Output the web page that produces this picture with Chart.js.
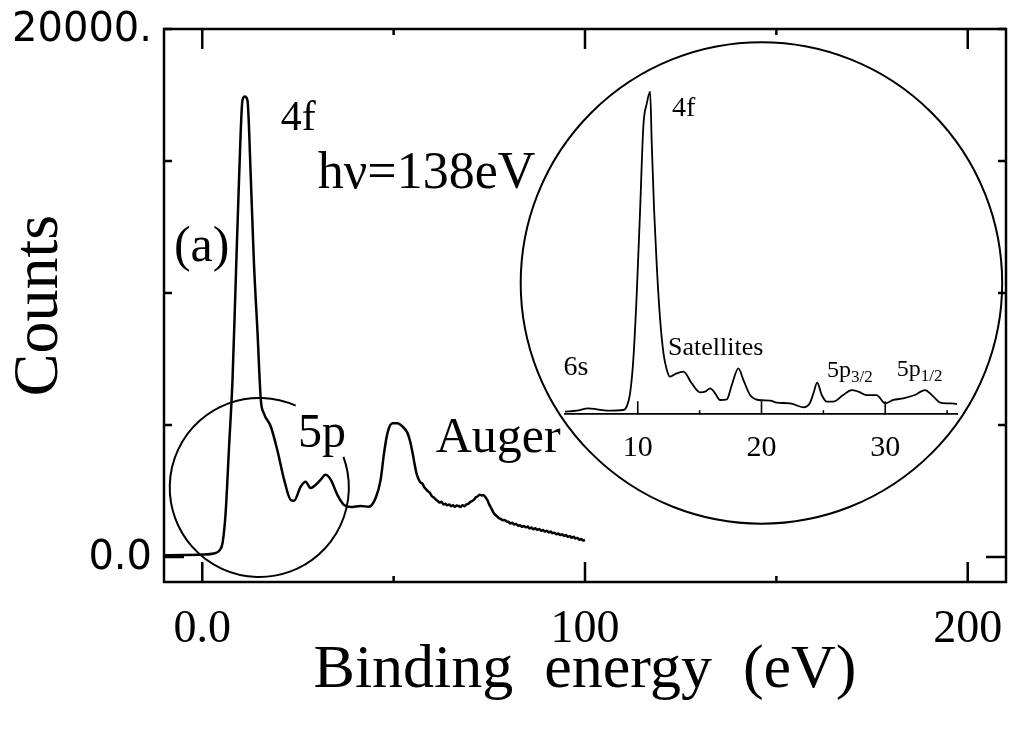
<!DOCTYPE html>
<html>
<head>
<meta charset="utf-8">
<script src="https://cdn.jsdelivr.net/npm/chart.js@4.4.1/dist/chart.umd.min.js"></script>
<style>
  html, body { margin: 0; padding: 0; background: #fff; }
  #wrap { position: relative; width: 1013px; height: 730px; }
  #main { position: absolute; left: 0; top: 0; }
  #inset { position: absolute; left: 540px; top: 60px; }
</style>
</head>
<body>
<div id="wrap">
  <canvas id="main" width="1013" height="730"></canvas>
  <canvas id="inset" width="440" height="420"></canvas>
</div>
<script>
// full spectrum, hv = 138 eV
var energy = [-10, -5, 0, 3, 4.5, 5.3, 6.1, 7.0, 7.9, 8.75, 9.6, 10.5, 11.1, 11.8, 12.7, 13.5, 14.4, 15.3, 16.1, 17.9,
  19.6, 21.4, 23.1, 24.0, 25.7, 27.0, 28.3, 29.6, 30.9, 32.2, 33.6, 35.3, 37.0, 38.8, 41.4, 43.5, 45.3, 46.6, 47.5, 48.4,
  49.7, 51.0, 52.3, 53.6, 54.3, 55.0, 55.5, 56.0, 56.5, 57.0, 57.5, 58.0, 58.5, 59.0, 59.5, 60.0, 60.5, 61.0, 61.5, 62.0,
  62.5, 63.0, 63.5, 64.0, 64.5, 65.0, 65.5, 66.0, 66.5, 67.0, 67.5, 68.0, 68.5, 69.0, 69.5, 70.0, 70.5, 71.0, 71.5, 72.0,
  72.5, 73.0, 73.5, 74.0, 74.5, 75.0, 75.5, 76.0, 76.5, 77.0, 77.5, 78.0, 78.5, 79.0, 79.5, 80.0, 80.5, 81.0, 81.5, 82.0,
  82.5, 83.0, 83.5, 84.0, 84.5, 85.0, 85.5, 86.0, 86.5, 87.0, 87.5, 88.0, 88.5, 89.0, 89.5, 90.0, 90.5, 91.0, 91.5, 92.0,
  92.5, 93.0, 93.5, 94.0, 94.5, 95.0, 95.5, 96.0, 96.5, 97.0, 97.5, 98.0, 98.5, 99.0, 99.5, 100.0];
var counts = [60, 70, 90, 130, 250, 530, 1660, 4180, 6700, 10500, 14280, 17300, 17440, 17300, 14280, 11130, 8600, 5950, 5440, 4940,
  4050, 2920, 2160, 2130, 2660, 2850, 2610, 2730, 2920, 3110, 2920, 2350, 1970, 1890, 1930, 1900, 2230, 2920, 3940, 4700,
  5060, 5060, 4940, 4700, 4380, 3900, 3500, 3150, 2950, 2820, 2780, 2640, 2560, 2480, 2420, 2300, 2250, 2180, 2120, 2060,
  2090, 1990, 2010, 1960, 1990, 1920, 1960, 1900, 1950, 1930, 1890, 1960, 1920, 1990, 2010, 2080, 2120, 2170, 2260, 2300,
  2360, 2330, 2340, 2260, 2150, 1980, 1850, 1700, 1600, 1540, 1470, 1440, 1390, 1400, 1340, 1330, 1270, 1290, 1230, 1250,
  1180, 1200, 1140, 1170, 1120, 1150, 1080, 1110, 1050, 1090, 1030, 1060, 990, 1020, 960, 990, 930, 960, 900, 920,
  860, 890, 830, 860, 800, 830, 760, 790, 730, 760, 700, 720, 650, 680, 620, 640];

// expanded valence region shown in the circle
var insetEnergy = [4.12, 5.07, 6.0, 6.7, 7.5, 8.84, 9.1, 9.38, 9.64, 9.92, 10.19, 10.45, 10.73, 11.0, 11.13, 11.32, 11.54, 11.81,
  12.08, 12.35, 12.6, 13.15, 13.69, 14.36, 15.04, 15.44, 15.85, 16.25, 16.65, 17.2, 17.6, 18.13, 18.54, 19.08, 19.75, 20.7,
  21.24, 22.3, 23.4, 23.9, 24.2, 24.5, 24.87, 25.28, 25.8, 26.6, 27.3, 27.83, 28.5, 29.3, 30.0, 30.66, 31.47, 32.4, 33.2,
  33.9, 34.44, 35.1, 35.8, 36.27];
var insetCounts = [143, 198, 330, 275, 198, 236, 418, 1155, 2990, 6655, 11240, 15820, 17100, 17740, 14900, 11240, 8120, 5190,
  3355, 2440, 2070, 2255, 2345, 1705, 1210, 1245, 1430, 1155, 787, 825, 1610, 2530, 1885, 1060, 787, 750,
  640, 605, 385, 605, 1155, 1740, 1060, 695, 695, 1060, 1335, 1245, 1060, 1060, 605, 787, 880, 1060, 1335,
  970, 640, 600, 565, 457];

var xTickValues = [0, 50, 100, 150, 200];
var xTickLabels = { 0: '0.0', 100: '100', 200: '200' };
var yTickValues = [0, 5000, 10000, 15000, 20000];
var yTickLabels = { 0: '0.0', 20000: '20000.' };
var insetTickValues = [10, 15, 20, 25, 30, 35];
var insetTickLabels = { 10: '10', 20: '20', 30: '30' };

var serif = '"Liberation Serif", "Times New Roman", serif';

function toPoints(xs, ys) {
  return xs.map(function (v, i) { return { x: v, y: ys[i] }; });
}

// frame, inward ticks, circles and labels of the main panel
var mainDecor = {
  id: 'mainDecor',
  afterDatasetsDraw: function (chart) {
    var ctx = chart.ctx, a = chart.chartArea, x = chart.scales.x, y = chart.scales.y;
    ctx.save();
    ctx.strokeStyle = '#000';
    ctx.lineWidth = 2.5;
    ctx.strokeRect(a.left, a.top, a.right - a.left, a.bottom - a.top);
    ctx.beginPath();
    xTickValues.forEach(function (v) {
      var px = x.getPixelForValue(v);
      var len = xTickLabels[v] ? 20 : 6;
      ctx.moveTo(px, a.bottom); ctx.lineTo(px, a.bottom - len);
      ctx.moveTo(px, a.top); ctx.lineTo(px, a.top + len);
    });
    yTickValues.forEach(function (v) {
      var py = y.getPixelForValue(v);
      var len = v === 0 ? 20 : 8;
      ctx.moveTo(a.left, py); ctx.lineTo(a.left + len, py);
      ctx.moveTo(a.right, py); ctx.lineTo(a.right - len, py);
    });
    ctx.stroke();

    // circle round the 5p region, open where its label sits
    ctx.lineWidth = 2;
    var cx = x.getPixelForValue(14.9), cy = y.getPixelForValue(2630);
    var r = x.getPixelForValue(14.9 + 23.4) - cx;
    ctx.beginPath();
    ctx.arc(cx, cy, r, -20 * Math.PI / 180, (360 - 66) * Math.PI / 180);
    ctx.stroke();

    // circle holding the expanded spectrum
    cx = x.getPixelForValue(146.1); cy = y.getPixelForValue(10380);
    r = x.getPixelForValue(146.1 + 62.9) - cx;
    ctx.beginPath();
    ctx.arc(cx, cy, r, 0, Math.PI * 2);
    ctx.stroke();

    ctx.fillStyle = '#000';
    ctx.textAlign = 'left';
    ctx.textBaseline = 'alphabetic';
    [
      { t: '4f', e: 20.5, c: 16175, s: 42 },
      { t: 'h\u03bd=138eV', e: 30.2, c: 13980, s: 52 },
      { t: '(a)', e: -7.4, c: 11210, s: 50 },
      { t: '5p', e: 25.0, c: 4150, s: 48 },
      { t: 'Auger', e: 61.0, c: 3980, s: 50 }
    ].forEach(function (n) {
      ctx.font = n.s + 'px ' + serif;
      ctx.fillText(n.t, x.getPixelForValue(n.e), y.getPixelForValue(n.c));
    });
    ctx.restore();
  }
};

new Chart(document.getElementById('main'), {
  type: 'scatter',
  data: {
    datasets: [{
      data: toPoints(energy, counts),
      showLine: true,
      borderColor: '#000',
      borderWidth: 2.5,
      pointRadius: 0,
      cubicInterpolationMode: 'monotone'
    }]
  },
  options: {
    responsive: false,
    animation: false,
    layout: { padding: { top: 29, right: 7, left: 0, bottom: 0 } },
    plugins: { legend: { display: false }, tooltip: { enabled: false } },
    scales: {
      x: {
        type: 'linear', min: -10, max: 210,
        afterBuildTicks: function (s) { s.ticks = xTickValues.map(function (v) { return { value: v }; }); },
        afterFit: function (s) { s.height = 148; s.paddingLeft = 0; s.paddingRight = 0; },
        grid: { drawOnChartArea: false, drawTicks: false },
        border: { display: false },
        ticks: {
          padding: 20, color: '#000', maxRotation: 0, autoSkip: false,
          font: { family: serif, size: 46 },
          callback: function (v) { return xTickLabels[v] || ''; }
        },
        title: {
          display: true, text: 'Binding  energy  (eV)', color: '#000',
          font: { family: serif, size: 62 }, padding: { top: 0, bottom: 22 }
        }
      },
      y: {
        type: 'linear', min: -950, max: 20000,
        afterBuildTicks: function (s) { s.ticks = yTickValues.map(function (v) { return { value: v }; }); },
        afterFit: function (s) { s.width = 164; s.paddingTop = 0; s.paddingBottom = 0; },
        grid: { drawOnChartArea: false, drawTicks: false },
        border: { display: false },
        ticks: {
          padding: 12, color: '#000', labelOffset: 2,
          font: { family: '"DejaVu Sans", sans-serif', size: 40 },
          callback: function (v) { return yTickLabels[v] || ''; }
        },
        title: {
          display: true, text: 'Counts', color: '#000',
          font: { family: serif, size: 64 }, padding: { top: 2, bottom: 0 }
        }
      }
    }
  },
  plugins: [mainDecor]
});

// inward ticks and peak names of the expanded spectrum
var insetDecor = {
  id: 'insetDecor',
  afterDatasetsDraw: function (chart) {
    var ctx = chart.ctx, a = chart.chartArea, x = chart.scales.x, y = chart.scales.y;
    ctx.save();
    ctx.strokeStyle = '#000';
    ctx.lineWidth = 1.6;
    ctx.beginPath();
    insetTickValues.forEach(function (v) {
      var px = x.getPixelForValue(v);
      var len = insetTickLabels[v] ? 13 : 4;
      ctx.moveTo(px, a.bottom); ctx.lineTo(px, a.bottom - len);
    });
    ctx.stroke();

    ctx.fillStyle = '#000';
    ctx.textAlign = 'left';
    ctx.textBaseline = 'alphabetic';
    [
      { t: '4f', e: 12.77, c: 16400, s: 28 },
      { t: 'Satellites', e: 12.45, c: 3260, s: 26 },
      { t: '6s', e: 4.0, c: 2160, s: 28 },
      { t: '5p', sub: '3/2', e: 25.3, c: 2070, s: 24 },
      { t: '5p', sub: '1/2', e: 30.94, c: 2100, s: 24 }
    ].forEach(function (n) {
      var px = x.getPixelForValue(n.e), py = y.getPixelForValue(n.c);
      ctx.font = n.s + 'px ' + serif;
      ctx.fillText(n.t, px, py);
      if (n.sub) {
        var w = ctx.measureText(n.t).width;
        ctx.font = Math.round(n.s * 0.72) + 'px ' + serif;
        ctx.fillText(n.sub, px + w, py + 5);
      }
    });
    ctx.restore();
  }
};

new Chart(document.getElementById('inset'), {
  type: 'scatter',
  data: {
    datasets: [{
      data: toPoints(insetEnergy, insetCounts),
      showLine: true,
      borderColor: '#000',
      borderWidth: 1.8,
      pointRadius: 0,
      clip: false,
      cubicInterpolationMode: 'monotone'
    }]
  },
  options: {
    responsive: false,
    animation: false,
    layout: { padding: { top: 27, right: 23, left: 25, bottom: 0 } },
    plugins: { legend: { display: false }, tooltip: { enabled: false } },
    scales: {
      x: {
        type: 'linear', min: 4.12, max: 35.8,
        afterBuildTicks: function (s) { s.ticks = insetTickValues.map(function (v) { return { value: v }; }); },
        afterFit: function (s) { s.height = 65.7; s.paddingLeft = 0; s.paddingRight = 0; },
        grid: { drawOnChartArea: false, drawTicks: false },
        border: { display: true, color: '#000', width: 1.8 },
        ticks: {
          padding: 16, color: '#000', maxRotation: 0, autoSkip: false,
          font: { family: serif, size: 30 },
          callback: function (v) { return insetTickLabels[v] || ''; }
        }
      },
      y: { type: 'linear', min: 0, max: 18000, display: false }
    }
  },
  plugins: [insetDecor]
});
</script>
</body>
</html>
